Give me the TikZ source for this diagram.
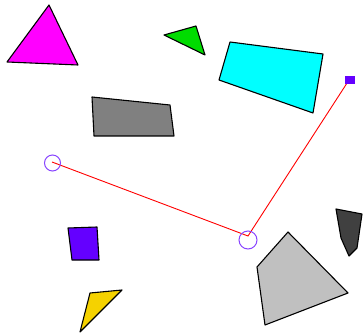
\documentclass[tikz,border=0pt]{standalone}
\definecolor{ringc}{RGB}{136,68,255}
\definecolor{violetc}{RGB}{100,0,255}
\definecolor{greenc}{RGB}{0,220,0}
\definecolor{yellowc}{RGB}{245,210,0}
\definecolor{lgray}{RGB}{192,192,192}
\definecolor{dgray}{RGB}{64,64,64}
\definecolor{mgc}{RGB}{255,0,255}
\definecolor{cyc}{RGB}{0,255,255}
\definecolor{midgray}{RGB}{128,128,128}
\begin{document}
\begin{tikzpicture}[x=1pt,y=-1pt,
  polyshape/.style={draw=black,line width=1.1pt,line join=round},
  ring/.style={draw=ringc,line width=1pt},
  redline/.style={draw=red,line width=0.9pt}]
\useasboundingbox (0,0) rectangle (363,336);
% magenta triangle
\filldraw[polyshape,fill=mgc] (49,5) -- (78,65) -- (7,62) -- cycle;
% green triangle
\filldraw[polyshape,fill=greenc] (164,35) -- (196,26) -- (205,55) -- cycle;
% cyan quad
\filldraw[polyshape,fill=cyc] (230,42) -- (323,54) -- (313,113) -- (219,80) -- cycle;
% gray quad
\filldraw[polyshape,fill=midgray] (92,97) -- (170,105) -- (174,136) -- (94,136) -- cycle;
% purple square
\filldraw[polyshape,fill=violetc] (68,228) -- (97,227) -- (99,260) -- (72,260) -- cycle;
% yellow triangle
\filldraw[polyshape,fill=yellowc] (122,290) -- (90,293) -- (80,332) -- cycle;
% light gray polygon
\filldraw[polyshape,fill=lgray] (288,232) -- (348,293) -- (265,325) -- (257,267) -- cycle;
% dark gray polygon
\filldraw[polyshape,fill=dgray] (336,209) -- (362,214) -- (357,248) -- (349,256) -- (341,238) -- cycle;
% polyline
\coordinate (p1) at (52,162);
\coordinate (p2) at (248,236);
\coordinate (p3) at (349,80);
\draw[redline] (p1) -- (p2) -- (p3);
\draw[ring] (52.5,163) circle (8);
\draw[ring] (248,240) circle (9);
\fill[violetc] (345,76) rectangle (355,84);
\end{tikzpicture}
\end{document}
